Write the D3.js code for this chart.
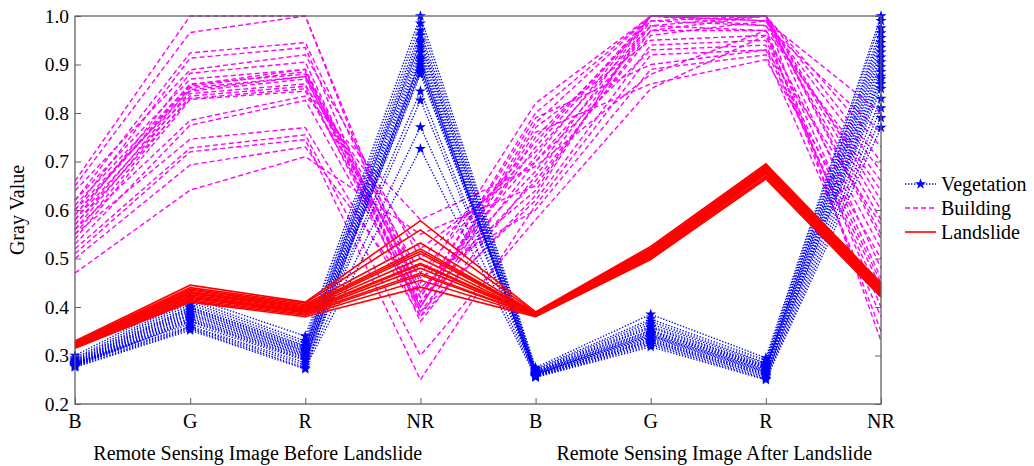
<!DOCTYPE html>
<html>
<head>
<meta charset="utf-8">
<script src="https://cdn.jsdelivr.net/npm/d3@7"></script>
<style>
  body { margin: 0; background: #fff; }
  svg { display: block; }
  text { font-family: "Liberation Serif", "Times New Roman", serif; fill: #000; }
</style>
</head>
<body>
<svg id="chart" width="1034" height="466"></svg>
<script>
// band names along the x axis (before / after)
const bands = ["B", "G", "R", "NR", "B", "G", "R", "NR"];
const yTicks = [0.2, 0.3, 0.4, 0.5, 0.6, 0.7, 0.8, 0.9, 1.0];
const groupTitles = ["Remote Sensing Image Before Landslide", "Remote Sensing Image After Landslide"];

// each row: gray values at B,G,R,NR before then B,G,R,NR after
const vegetation = [
  [0.300, 0.420, 0.340, 1.000, 0.275, 0.385, 0.295, 1.000],
  [0.295, 0.415, 0.330, 0.985, 0.272, 0.375, 0.290, 0.990],
  [0.292, 0.410, 0.325, 0.970, 0.270, 0.370, 0.285, 0.975],
  [0.290, 0.405, 0.320, 0.960, 0.268, 0.365, 0.283, 0.965],
  [0.288, 0.400, 0.318, 0.950, 0.267, 0.360, 0.280, 0.955],
  [0.287, 0.398, 0.315, 0.945, 0.266, 0.357, 0.278, 0.945],
  [0.285, 0.395, 0.312, 0.935, 0.265, 0.352, 0.277, 0.935],
  [0.284, 0.392, 0.310, 0.925, 0.264, 0.350, 0.275, 0.925],
  [0.283, 0.388, 0.308, 0.915, 0.263, 0.347, 0.274, 0.915],
  [0.282, 0.385, 0.305, 0.905, 0.262, 0.344, 0.272, 0.905],
  [0.281, 0.382, 0.303, 0.900, 0.262, 0.342, 0.270, 0.895],
  [0.280, 0.378, 0.300, 0.895, 0.261, 0.340, 0.268, 0.885],
  [0.280, 0.375, 0.298, 0.890, 0.260, 0.338, 0.266, 0.875],
  [0.279, 0.372, 0.295, 0.885, 0.260, 0.335, 0.264, 0.870],
  [0.278, 0.370, 0.292, 0.880, 0.259, 0.332, 0.262, 0.860],
  [0.285, 0.365, 0.290, 0.845, 0.258, 0.330, 0.260, 0.850],
  [0.283, 0.360, 0.285, 0.826, 0.258, 0.328, 0.258, 0.830],
  [0.280, 0.358, 0.280, 0.771, 0.257, 0.325, 0.255, 0.810],
  [0.277, 0.355, 0.275, 0.726, 0.256, 0.322, 0.252, 0.790],
  [0.276, 0.352, 0.272, 0.910, 0.255, 0.318, 0.250, 0.770]
];

const building = [
  [0.66, 1.000, 1.000, 0.42, 0.80, 1.00, 1.00, 0.60],
  [0.65, 0.966, 1.000, 0.40, 0.78, 1.00, 1.00, 0.55],
  [0.62, 0.924, 0.945, 0.45, 0.82, 1.00, 0.99, 0.80],
  [0.60, 0.913, 0.935, 0.38, 0.75, 0.99, 0.98, 0.76],
  [0.64, 0.889, 0.920, 0.50, 0.72, 0.98, 1.00, 0.70],
  [0.58, 0.882, 0.905, 0.39, 0.70, 0.97, 0.97, 0.66],
  [0.61, 0.858, 0.890, 0.43, 0.68, 1.00, 1.00, 0.62],
  [0.59, 0.855, 0.885, 0.41, 0.66, 0.96, 0.99, 0.58],
  [0.57, 0.852, 0.875, 0.47, 0.74, 1.00, 0.98, 0.64],
  [0.60, 0.848, 0.875, 0.40, 0.77, 0.95, 0.96, 0.52],
  [0.56, 0.845, 0.870, 0.44, 0.64, 0.99, 1.00, 0.48],
  [0.58, 0.840, 0.860, 0.39, 0.62, 0.94, 0.95, 0.45],
  [0.55, 0.835, 0.855, 0.52, 0.70, 0.93, 0.94, 0.42],
  [0.57, 0.830, 0.850, 0.42, 0.79, 0.90, 0.93, 0.57],
  [0.54, 0.828, 0.845, 0.46, 0.60, 0.89, 0.92, 0.38],
  [0.56, 0.785, 0.835, 0.58, 0.69, 0.88, 0.97, 0.35],
  [0.53, 0.775, 0.826, 0.40, 0.76, 0.86, 0.91, 0.50],
  [0.55, 0.746, 0.770, 0.38, 0.63, 1.00, 1.00, 0.33],
  [0.52, 0.728, 0.755, 0.30, 0.58, 0.85, 0.96, 0.40],
  [0.51, 0.720, 0.745, 0.25, 0.61, 0.92, 0.93, 0.44],
  [0.50, 0.693, 0.730, 0.41, 0.73, 1.00, 0.99, 0.68],
  [0.47, 0.641, 0.710, 0.55, 0.65, 0.97, 1.00, 0.73],
  [0.59, 0.860, 0.880, 0.43, 0.71, 1.00, 1.00, 0.54],
  [0.62, 0.870, 0.890, 0.37, 0.67, 0.98, 0.97, 0.46]
];

const landslide = [
  [0.330, 0.445, 0.410, 0.578, 0.390, 0.525, 0.695, 0.450],
  [0.328, 0.440, 0.408, 0.559, 0.388, 0.522, 0.692, 0.447],
  [0.326, 0.437, 0.405, 0.532, 0.387, 0.520, 0.690, 0.445],
  [0.325, 0.435, 0.402, 0.520, 0.386, 0.518, 0.688, 0.442],
  [0.324, 0.432, 0.400, 0.515, 0.385, 0.516, 0.686, 0.440],
  [0.323, 0.430, 0.398, 0.510, 0.385, 0.514, 0.684, 0.438],
  [0.322, 0.428, 0.396, 0.500, 0.384, 0.512, 0.682, 0.436],
  [0.321, 0.425, 0.394, 0.490, 0.384, 0.510, 0.680, 0.434],
  [0.320, 0.422, 0.392, 0.487, 0.383, 0.508, 0.678, 0.432],
  [0.319, 0.420, 0.390, 0.480, 0.383, 0.506, 0.676, 0.430],
  [0.318, 0.418, 0.388, 0.470, 0.382, 0.504, 0.674, 0.428],
  [0.317, 0.415, 0.385, 0.466, 0.382, 0.502, 0.670, 0.425],
  [0.316, 0.412, 0.383, 0.455, 0.381, 0.500, 0.667, 0.422],
  [0.315, 0.410, 0.380, 0.441, 0.380, 0.498, 0.664, 0.420]
];

const svg = d3.select("#chart");
const mLeft = 75, mRight = 881, mTop = 16, mBottom = 404;

const x = d3.scalePoint().domain(d3.range(bands.length)).range([mLeft, mRight]);
const y = d3.scaleLinear().domain([0.2, 1.0]).range([mBottom, mTop]);

const line = d3.line()
  .x((d, i) => x(i))
  .y(d => y(d));

const star = d3.symbol().type(d3.symbolStar).size(38);

// building first, then vegetation, landslide on top
svg.append("g").selectAll("path")
  .data(building).join("path")
  .attr("d", line)
  .attr("fill", "none")
  .attr("stroke", "#ff00ff")
  .attr("stroke-width", 1.4)
  .attr("stroke-dasharray", "5,3");

let veg = svg.append("g");
veg.selectAll("path.l")
  .data(vegetation).join("path")
  .attr("class", "l")
  .attr("d", line)
  .attr("fill", "none")
  .attr("stroke", "#0000ff")
  .attr("stroke-width", 1.4)
  .attr("stroke-dasharray", "1.3,1.7");
vegetation.forEach(function(row) {
  veg.append("g").selectAll("path")
    .data(row).join("path")
    .attr("d", star)
    .attr("transform", (d, i) => "translate(" + x(i) + "," + y(d) + ")")
    .attr("fill", "#0000ff");
});

svg.append("g").selectAll("path")
  .data(landslide).join("path")
  .attr("d", line)
  .attr("fill", "none")
  .attr("stroke", "#ff0000")
  .attr("stroke-width", 1.6);

// axes box
const axisColor = "#606060";
svg.append("rect")
  .attr("x", mLeft).attr("y", mTop)
  .attr("width", mRight - mLeft).attr("height", mBottom - mTop)
  .attr("fill", "none").attr("stroke", axisColor).attr("stroke-width", 1.3);

let yAxis = svg.append("g").attr("transform", "translate(" + mLeft + ",0)")
  .call(d3.axisRight(y).tickValues(yTicks).tickSize(6).tickFormat(""));
let yAxisR = svg.append("g").attr("transform", "translate(" + mRight + ",0)")
  .call(d3.axisLeft(y).tickValues(yTicks).tickSize(6).tickFormat(""));
let xAxis = svg.append("g").attr("transform", "translate(0," + mBottom + ")")
  .call(d3.axisTop(x).tickSize(6).tickFormat(""));
[yAxis, yAxisR, xAxis].forEach(function(g) {
  g.select(".domain").remove();
  g.selectAll("line").attr("stroke", axisColor);
});

// tick labels
svg.append("g").selectAll("text")
  .data(yTicks).join("text")
  .attr("x", mLeft - 6)
  .attr("y", d => y(d) + 6.5)
  .attr("text-anchor", "end")
  .attr("font-size", 19.5)
  .text(d => d.toFixed(1));

svg.append("g").selectAll("text")
  .data(bands).join("text")
  .attr("x", (d, i) => x(i))
  .attr("y", 428)
  .attr("text-anchor", "middle")
  .attr("font-size", 20)
  .text(d => d);

svg.append("text")
  .attr("transform", "translate(24," + ((mTop + mBottom) / 2) + ") rotate(-90)")
  .attr("text-anchor", "middle")
  .attr("font-size", 20)
  .text("Gray Value");

svg.append("g").selectAll("text")
  .data(groupTitles).join("text")
  .attr("x", (d, i) => i == 0 ? (x(0) + x(3)) / 2 + 10 : (x(4) + x(7)) / 2 + 6)
  .attr("y", 460)
  .attr("text-anchor", "middle")
  .attr("font-size", 20)
  .text(d => d);

// legend
const legendItems = [
  { name: "Vegetation", color: "#0000ff", dash: "1.3,1.7", marker: true },
  { name: "Building", color: "#ff00ff", dash: "5,3", marker: false },
  { name: "Landslide", color: "#ff0000", dash: null, marker: false }
];
let lg = svg.append("g").attr("transform", "translate(905,184)");
legendItems.forEach(function(it, i) {
  let row = lg.append("g").attr("transform", "translate(0," + i * 24 + ")");
  row.append("line")
    .attr("x1", 0).attr("x2", 31).attr("y1", 0).attr("y2", 0)
    .attr("stroke", it.color)
    .attr("stroke-width", it.dash ? 1.4 : 1.6)
    .attr("stroke-dasharray", it.dash);
  if (it.marker) {
    row.append("path").attr("d", star).attr("transform", "translate(15.5,0)").attr("fill", it.color);
  }
  row.append("text")
    .attr("x", 36).attr("y", 6.5)
    .attr("font-size", 20)
    .text(it.name);
});
</script>
</body>
</html>
